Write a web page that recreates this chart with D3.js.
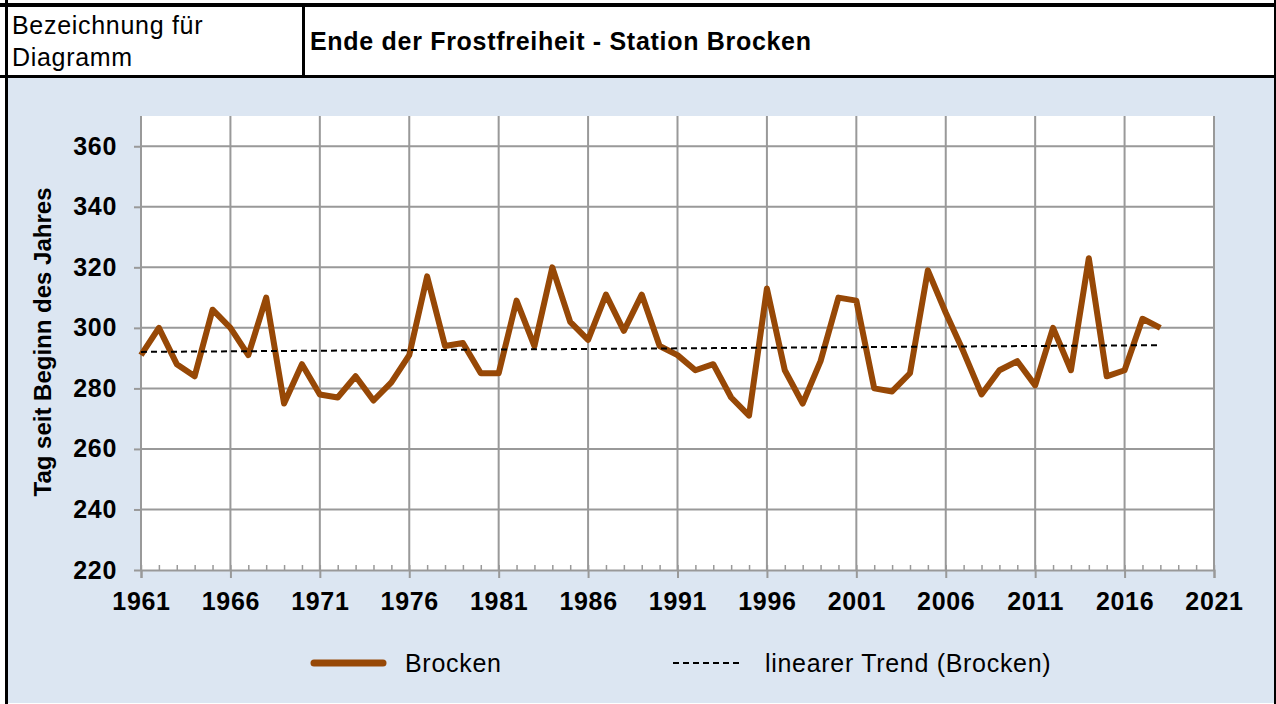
<!DOCTYPE html>
<html>
<head>
<meta charset="utf-8">
<script src="https://cdn.jsdelivr.net/npm/d3@7"></script>
<style>
  body { margin: 0; background: #fff; }
  svg { display: block; font-family: "Liberation Sans", Arial, sans-serif; }
  text { letter-spacing: 0.7px; }
</style>
</head>
<body>
<div id="chart"></div>
<script>
// Data
const years = d3.range(1961, 2019);
const brocken = [291, 300, 288, 284, 306, 300, 291, 310, 275, 288,
                 278, 277, 284, 276, 282, 291, 317, 294, 295, 285,
                 285, 309, 294, 320, 302, 296, 311, 299, 311, 294,
                 291, 286, 288, 277, 271, 313, 286, 275, 289, 310,
                 309, 280, 279, 285, 319, 305, 292, 278, 286, 289,
                 281, 300, 286, 323, 284, 286, 303, 300];
const xTicks = d3.range(1961, 2022, 5);
const yTicks = d3.range(220, 361, 20);
const seriesName = "Brocken";
const trendName = "linearer Trend (Brocken)";

const W = 1276, H = 704;
const plot = {left: 141, right: 1214, top: 116, bottom: 570};
const brown = "#974806", grid = "#999999";

const svg = d3.select("#chart")
  .append("svg")
  .attr("width", W)
  .attr("height", H);

// Header table
svg.append("rect").attr("x", 0).attr("y", 0).attr("width", W).attr("height", H).attr("fill", "#fff");
svg.append("rect").attr("x", 8).attr("y", 78).attr("width", 1266).attr("height", 625).attr("fill", "#dce6f2");
svg.append("rect").attr("x", 0).attr("y", 3).attr("width", W).attr("height", 4).attr("fill", "#000");
svg.append("rect").attr("x", 0).attr("y", 75).attr("width", W).attr("height", 3).attr("fill", "#000");
svg.append("rect").attr("x", 5).attr("y", 0).attr("width", 3).attr("height", H).attr("fill", "#000");
svg.append("rect").attr("x", 1274).attr("y", 0).attr("width", 2).attr("height", H).attr("fill", "#000");
svg.append("rect").attr("x", 302).attr("y", 7).attr("width", 3).attr("height", 68).attr("fill", "#000");

svg.append("text").attr("x", 12).attr("y", 34).style("font-size", "25px").text("Bezeichnung für");
svg.append("text").attr("x", 12).attr("y", 66).style("font-size", "25px").text("Diagramm");
svg.append("text").attr("x", 310).attr("y", 50).style("font-size", "25px").style("font-weight", "bold")
  .text("Ende der Frostfreiheit - Station Brocken");

// Scales
const x = d3.scaleLinear().domain([1961, 2021]).range([plot.left, plot.right]);
const y = d3.scaleLinear().domain([220, 370]).range([plot.bottom, plot.top]);

svg.append("rect")
  .attr("x", plot.left).attr("y", plot.top)
  .attr("width", plot.right - plot.left).attr("height", plot.bottom - plot.top)
  .attr("fill", "#fff");

// Gridlines
svg.append("g")
  .selectAll("line")
  .data(yTicks.filter(d => d > 220))
  .enter().append("line")
  .attr("x1", plot.left).attr("x2", plot.right)
  .attr("y1", d => y(d)).attr("y2", d => y(d))
  .attr("stroke", grid).attr("stroke-width", 2);

svg.append("g")
  .selectAll("line")
  .data(xTicks.filter(d => d > 1961))
  .enter().append("line")
  .attr("x1", d => x(d)).attr("x2", d => x(d))
  .attr("y1", plot.top).attr("y2", plot.bottom)
  .attr("stroke", grid).attr("stroke-width", 2);

// Minor ticks (every year, pointing up)
svg.append("g")
  .attr("transform", `translate(0,${plot.bottom})`)
  .call(d3.axisTop(x).tickValues(d3.range(1961, 2022)).tickSize(5).tickFormat(""))
  .call(g => g.select(".domain").remove())
  .selectAll("line").attr("stroke", grid).attr("stroke-width", 1.5);

// X axis
svg.append("g")
  .attr("transform", `translate(0,${plot.bottom})`)
  .call(d3.axisBottom(x).tickValues(xTicks).tickSize(8).tickPadding(14).tickFormat(d3.format("d")))
  .call(g => g.select(".domain").attr("stroke", grid).attr("stroke-width", 2))
  .call(g => g.selectAll(".tick line").attr("stroke", grid).attr("stroke-width", 2))
  .call(g => g.selectAll(".tick text")
    .attr("fill", "#000").style("font-size", "25px").style("font-weight", "bold")
    .style("font-family", "Liberation Sans, Arial, sans-serif"));

// Y axis
svg.append("g")
  .attr("transform", `translate(${plot.left},0)`)
  .call(d3.axisLeft(y).tickValues(yTicks).tickSize(7).tickPadding(17))
  .call(g => g.select(".domain").attr("stroke", grid).attr("stroke-width", 2).attr("d", `M0,${plot.top}V${plot.bottom}`))
  .call(g => g.selectAll(".tick line").attr("stroke", grid).attr("stroke-width", 2))
  .call(g => g.selectAll(".tick text")
    .attr("fill", "#000").style("font-size", "25px").style("font-weight", "bold")
    .style("font-family", "Liberation Sans, Arial, sans-serif"));

svg.append("text")
  .attr("transform", "rotate(-90)")
  .attr("x", -342).attr("y", 51)
  .attr("text-anchor", "middle")
  .style("font-size", "24px").style("font-weight", "bold").style("letter-spacing", "0px")
  .text("Tag seit Beginn des Jahres");

// Series line
const line = d3.line().x((d, i) => x(years[i])).y(d => y(d));
svg.append("path")
  .datum(brocken)
  .attr("d", line)
  .attr("fill", "none")
  .attr("stroke", brown)
  .attr("stroke-width", 6)
  .attr("stroke-linejoin", "round");

// Linear trend (least squares)
const mx = d3.mean(years), my = d3.mean(brocken);
const slope = d3.sum(years, (d, i) => (d - mx) * (brocken[i] - my)) / d3.sum(years, d => (d - mx) ** 2);
const trend = years.map(d => my + slope * (d - mx));
svg.append("path")
  .datum(trend)
  .attr("d", line)
  .attr("fill", "none")
  .attr("stroke", "#000")
  .attr("stroke-width", 2)
  .attr("stroke-dasharray", "6,4");

// Legend
const legend = svg.append("g").attr("transform", "translate(0,663)");
legend.append("line").attr("x1", 314).attr("x2", 383)
  .attr("stroke", brown).attr("stroke-width", 7).attr("stroke-linecap", "round");
legend.append("text").attr("x", 405).attr("dy", "0.35em").style("font-size", "25px").text(seriesName);
legend.append("line").attr("x1", 673).attr("x2", 742)
  .attr("stroke", "#000").attr("stroke-width", 2).attr("stroke-dasharray", "6,4");
legend.append("text").attr("x", 765).attr("dy", "0.35em").style("font-size", "25px").text(trendName);
</script>
</body>
</html>
